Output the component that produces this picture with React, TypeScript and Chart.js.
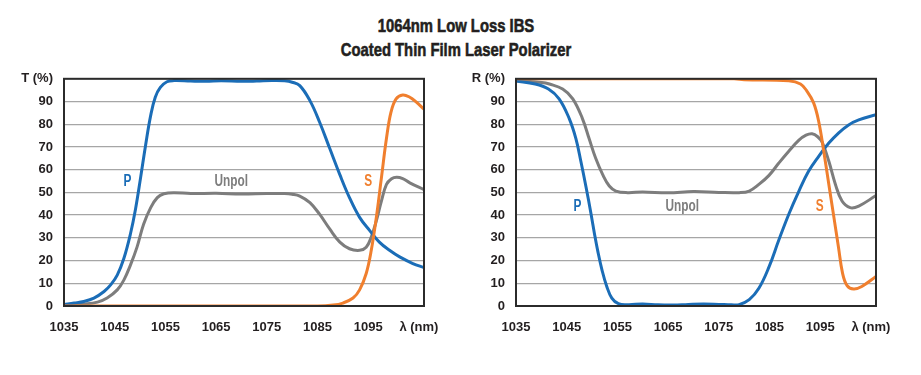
import React, { useEffect, useRef } from "react";
import { Chart, registerables } from "chart.js";

Chart.register(...registerables);

const TITLE_LINES = ["1064nm Low Loss IBS", "Coated Thin Film Laser Polarizer"];

const X_TICKS = [1035, 1045, 1055, 1065, 1075, 1085, 1095, 1105];
const X_TICK_LABELS = ["1035", "1045", "1055", "1065", "1075", "1085", "1095", "λ (nm)"];
const X_MIN = 1035;
const X_MAX = 1106;
const Y_MIN = 0;
const Y_MAX = 100;
const Y_STEP = 10;

// Transmission (left)
const T_P_NM = [1035, 1037, 1038.9, 1040.9, 1042.9, 1044.2, 1045.5, 1046.8, 1048.1, 1049.1, 1050.1, 1051.1, 1052.1, 1053, 1054, 1055.3, 1056.7, 1060, 1063, 1066, 1070, 1073, 1076, 1078.5, 1080, 1081.5, 1083.5, 1085.4, 1087.4, 1089.4, 1091.3, 1093.3, 1095.3, 1097.2, 1099.2, 1101.2, 1103.8, 1106];
const T_P = [0.7, 1.3, 2, 3.5, 6.4, 9.3, 13.6, 20.9, 31.7, 42.6, 56.4, 70.9, 83.9, 91.9, 96.2, 98.7, 99.2, 99.0, 98.9, 99.1, 98.9, 99.0, 99.2, 99.1, 98.5, 97, 90.4, 81, 69.4, 57.8, 47.7, 39, 33.2, 28.1, 24.5, 21.6, 18.7, 16.9];

const T_U_NM = [1035, 1038.9, 1041.6, 1043.5, 1045.5, 1046.8, 1048.1, 1049.4, 1050.7, 1052.1, 1053.4, 1054.7, 1056.7, 1060, 1065, 1070, 1075, 1078.5, 1080, 1081.5, 1083.5, 1085.4, 1087.4, 1089.4, 1091.3, 1093.3, 1094.6, 1095.6, 1096.6, 1097.6, 1098.6, 1099.6, 1100.6, 1101.8, 1103.2, 1106];
const T_U = [0.4, 0.9, 1.7, 3.5, 7.1, 11.4, 18, 25.9, 36, 43.3, 47.7, 49.4, 49.9, 49.5, 49.6, 49.3, 49.5, 49.5, 49.2, 48.4, 45.5, 40.4, 33.9, 28.1, 25.2, 24.5, 25.9, 30.3, 37.5, 46.2, 53.5, 56, 56.7, 56.1, 54.2, 51.2];

const T_S_NM = [1035, 1085, 1088.1, 1090, 1092, 1093.3, 1094.6, 1095.6, 1096.6, 1097.6, 1098.6, 1099.5, 1100.5, 1101.8, 1103.2, 1104.5, 1106];
const T_S = [0, 0, 0.4, 1.3, 3.5, 7.1, 14.3, 24.5, 39, 56.4, 73.8, 85.4, 91.2, 92.9, 91.9, 89.7, 86.6];

// Reflection (right)
const R_P_NM = [1035, 1038.8, 1041.4, 1043.5, 1045.5, 1046.8, 1047.8, 1048.8, 1049.8, 1050.5, 1051.1, 1052, 1052.9, 1053.9, 1055.2, 1057.2, 1060, 1063, 1066, 1069, 1072, 1075, 1077.5, 1079, 1081, 1082.9, 1084.9, 1086.8, 1088.8, 1090.8, 1092.7, 1094.7, 1096.7, 1098.6, 1100.6, 1102.6, 1106];
const R_P = [99, 97.7, 95.5, 91.2, 82.5, 73.8, 63.6, 52.5, 40.5, 31.5, 24.5, 15.5, 8.6, 3.5, 1, 0.6, 0.9, 0.5, 0.4, 0.7, 0.9, 0.7, 0.5, 0.6, 2.8, 7.8, 17.2, 28.8, 40.4, 50.6, 59.3, 65.9, 71.7, 76.1, 79.7, 81.9, 84.2];

const R_U_NM = [1035, 1040.1, 1041.6, 1044.2, 1046.2, 1048.1, 1049.4, 1050.7, 1052.1, 1053.4, 1054.7, 1057, 1060, 1065, 1070, 1075, 1079, 1081, 1082.9, 1084.9, 1086.8, 1088.8, 1090.8, 1092.2, 1093.4, 1094.5, 1095.4, 1096.7, 1098, 1099.3, 1100.9, 1102.6, 1106];
const R_U = [99.1, 98.4, 97.7, 95.5, 91.2, 82.5, 73.8, 65.1, 57.8, 52.8, 50.6, 49.9, 50.2, 49.8, 50.4, 50, 49.9, 50.6, 53.5, 57.5, 62.8, 68.1, 73, 75.2, 75.8, 74.5, 72, 63.7, 53.5, 46.2, 43.3, 44, 48.6];

const R_S_NM = [1035, 1078, 1080, 1088.8, 1091.1, 1092.4, 1093.7, 1094.7, 1095.7, 1096.7, 1097.7, 1098.6, 1099.4, 1100.3, 1101.6, 1103.2, 1106];
const R_S = [100, 100, 99.6, 99.1, 97.7, 94.5, 89.4, 81.2, 68, 53.5, 39, 25.9, 14.5, 9, 7.5, 8.6, 13];

const SERIES_NAMES = ["P", "Unpol", "S"];
const T_LABEL_AT = [[1047.5, 54.6], [1068, 54.6], [1095, 54.6]];
const R_LABEL_AT = [[1047.1, 43.8], [1067.8, 43.8], [1094.9, 43.8]];

const BLUE = "#1b6db7";
const GRAY = "#7d7d7d";
const ORANGE = "#f07f2e";
const TEXT = "#231f20";
const FONT = '"Liberation Sans", Arial, sans-serif';

const pts = (xs: number[], ys: number[]) => xs.map((x, i) => ({ x, y: ys[i] }));

function makeConfig(axisTitle: string, p: any[], u: any[], s: any[], labelAt: number[][], rightPad: number): any {
  const colors = [BLUE, GRAY, ORANGE];
  const overlay = {
    id: "overlay",
    afterDatasetsDraw(chart: any) {
      const { ctx, chartArea, scales } = chart;
      ctx.save();
      ctx.strokeStyle = "#2b2b2b";
      ctx.lineWidth = 2;
      ctx.strokeRect(chartArea.left, chartArea.top, chartArea.right - chartArea.left, chartArea.bottom - chartArea.top);
      ctx.font = `bold 16px ${FONT}`;
      ctx.textAlign = "center";
      ctx.textBaseline = "middle";
      SERIES_NAMES.forEach((name, i) => {
        const px = scales.x.getPixelForValue(labelAt[i][0]);
        const py = scales.y.getPixelForValue(labelAt[i][1]);
        ctx.save();
        ctx.translate(px, py);
        ctx.scale(0.74, 1);
        ctx.fillStyle = colors[i];
        ctx.fillText(name, 0, 0);
        ctx.restore();
      });
      ctx.restore();
    },
  };
  const ds = (data: any[], color: string) => ({
    data,
    borderColor: color,
    backgroundColor: color,
    borderWidth: 3,
    pointRadius: 0,
    tension: 0.4,
    fill: false,
  });
  return {
    type: "line",
    data: { datasets: [ds(s, ORANGE), ds(p, BLUE), ds(u, GRAY)] },
    plugins: [overlay],
    options: {
      animation: false,
      responsive: false,
      maintainAspectRatio: false,
      layout: { padding: { left: 0, right: rightPad, top: 16, bottom: 0 } },
      plugins: { legend: { display: false }, tooltip: { enabled: false }, title: { display: false } },
      scales: {
        x: {
          type: "linear",
          min: X_MIN,
          max: X_MAX,
          grid: { display: false, drawTicks: false },
          border: { display: false },
          afterBuildTicks: (sc: any) => {
            sc.ticks = X_TICKS.map((v) => ({ value: v }));
          },
          afterFit: (sc: any) => {
            sc.height = 54;
          },
          ticks: {
            autoSkip: false,
            maxRotation: 0,
            padding: 14,
            color: TEXT,
            font: { family: FONT, size: 13, weight: "bold" },
            callback: (v: number) => {
              const i = X_TICKS.indexOf(v);
              return i >= 0 ? X_TICK_LABELS[i] : "";
            },
          },
        },
        y: {
          type: "linear",
          min: Y_MIN,
          max: Y_MAX,
          grid: { color: "#a6a6a6", lineWidth: 1.3, drawTicks: false },
          border: { display: false },
          afterFit: (sc: any) => {
            sc.width = 64;
          },
          ticks: {
            stepSize: Y_STEP,
            padding: 11,
            color: TEXT,
            font: { family: FONT, size: 13, weight: "bold" },
            callback: (v: number) => (v === Y_MAX ? axisTitle : String(v)),
          },
        },
      },
    },
  };
}

function ChartCanvas({ config, style, width, height }: any) {
  const ref = useRef<HTMLCanvasElement>(null);
  useEffect(() => {
    const chart = new Chart(ref.current as HTMLCanvasElement, config);
    return () => chart.destroy();
  }, []);
  return <canvas ref={ref} width={width} height={height} style={{ position: "absolute", width, height, ...style }} />;
}

export default function App() {
  const left = makeConfig("T (%)", pts(T_P_NM, T_P), pts(T_U_NM, T_U), pts(T_S_NM, T_S), T_LABEL_AT, 36);
  const right = makeConfig("R (%)", pts(R_P_NM, R_P), pts(R_U_NM, R_U), pts(R_S_NM, R_S), R_LABEL_AT, 45);
  return (
    <div style={{ position: "absolute", left: 0, top: 0, width: 921, height: 375, background: "#fff", overflow: "hidden" }}>
      <div
        style={{
          position: "absolute",
          left: 0,
          top: 14,
          width: 912,
          textAlign: "center",
          fontFamily: FONT,
          fontWeight: "bold",
          fontSize: 19,
          lineHeight: "24px",
          color: TEXT,
          WebkitTextStroke: "0.6px " + TEXT,
          transform: "scaleX(0.78)",
          transformOrigin: "456px 0",
        }}
      >
        {TITLE_LINES.map((t) => (
          <div key={t}>{t}</div>
        ))}
      </div>
      <ChartCanvas config={left} width={460} height={300} style={{ left: 0, top: 60 }} />
      <ChartCanvas config={right} width={469} height={300} style={{ left: 452, top: 60 }} />
    </div>
  );
}
